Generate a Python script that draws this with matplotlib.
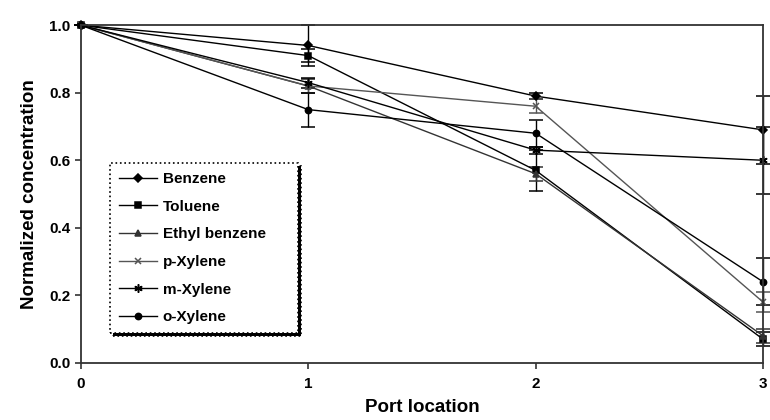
import matplotlib.pyplot as plt
from matplotlib.lines import Line2D
from matplotlib.ticker import FormatStrFormatter

plt.rcParams["font.family"] = ["Liberation Sans", "DejaVu Sans"]
plt.rcParams["font.weight"] = "bold"

ports = [0, 1, 2, 3]

benzene = [1.0, 0.94, 0.79, 0.69]
toluene = [1.0, 0.91, 0.57, 0.07]
ethyl_benzene = [1.0, 0.82, 0.56, 0.08]
p_xylene = [1.0, 0.82, 0.76, 0.18]
m_xylene = [1.0, 0.83, 0.63, 0.60]
o_xylene = [1.0, 0.75, 0.68, 0.24]

benzene_err = [0.0, 0.06, 0.01, 0.10]
toluene_err = [0.0, 0.02, 0.06, 0.02]
ethyl_benzene_err = [0.0, 0.02, 0.02, 0.02]
p_xylene_err = [0.0, 0.02, 0.02, 0.03]
m_xylene_err = [0.0, 0.015, 0.01, 0.10]
o_xylene_err = [0.0, 0.05, 0.04, 0.07]

series = [
    ("Benzene", benzene, benzene_err, "D", "black", 4.5),
    ("Toluene", toluene, toluene_err, "s", "black", 5),
    ("Ethyl benzene", ethyl_benzene, ethyl_benzene_err, "^", "#333333", 5),
    ("p-Xylene", p_xylene, p_xylene_err, "x", "#555555", 5),
    ("m-Xylene", m_xylene, m_xylene_err, (6, 2, 0), "black", 6),
    ("o-Xylene", o_xylene, o_xylene_err, "o", "black", 4.5),
]

fig = plt.figure(figsize=(7.7, 4.2), dpi=100)
ax = fig.add_axes([0.105, 0.136, 0.886, 0.804])

handles = []
for label, values, err, marker, color, size in series:
    ax.errorbar(ports, values, yerr=err, marker=marker, color=color,
                markersize=size, linewidth=1.0, elinewidth=1.0,
                capsize=5, capthick=1.0, markeredgewidth=1.1, clip_on=False)
    handles.append(Line2D([], [], marker=marker, color=color, markersize=size,
                          linewidth=1.0, markeredgewidth=1.1, label=label))

ax.set_xlim(0, 3)
ax.set_ylim(0, 1.0)
ax.set_xticks(ports)
ax.set_yticks([0.0, 0.2, 0.4, 0.6, 0.8, 1.0])
ax.yaxis.set_major_formatter(FormatStrFormatter("%.1f"))
ax.tick_params(labelsize=11, length=4, width=1.2, color="#333333")
ax.tick_params(axis="x", pad=6)
for lab in ax.get_xticklabels() + ax.get_yticklabels():
    lab.set_fontweight("bold")
for sp in ax.spines.values():
    sp.set_linewidth(1.3)
    sp.set_color("#333333")

ax.set_xlabel("Port location", fontsize=13.5, fontweight="bold", labelpad=6)
ax.set_ylabel("Normalized concentration", fontsize=13.5, fontweight="bold", labelpad=8)

leg = ax.legend(handles=handles, loc="upper left", bbox_to_anchor=(0.0425, 0.592, 0.276, 0.0),
                mode="expand", borderaxespad=0.0, frameon=True, fancybox=False,
                shadow={"color": "black", "alpha": 1.0},
                handlelength=2.5, handletextpad=0.35, labelspacing=0.89, borderpad=0.6,
                prop={"weight": "bold", "size": 11})
frame = leg.get_frame()
frame.set_linestyle(":")
frame.set_edgecolor("black")
frame.set_linewidth(1.2)

fig.savefig("out.png", dpi=100)
